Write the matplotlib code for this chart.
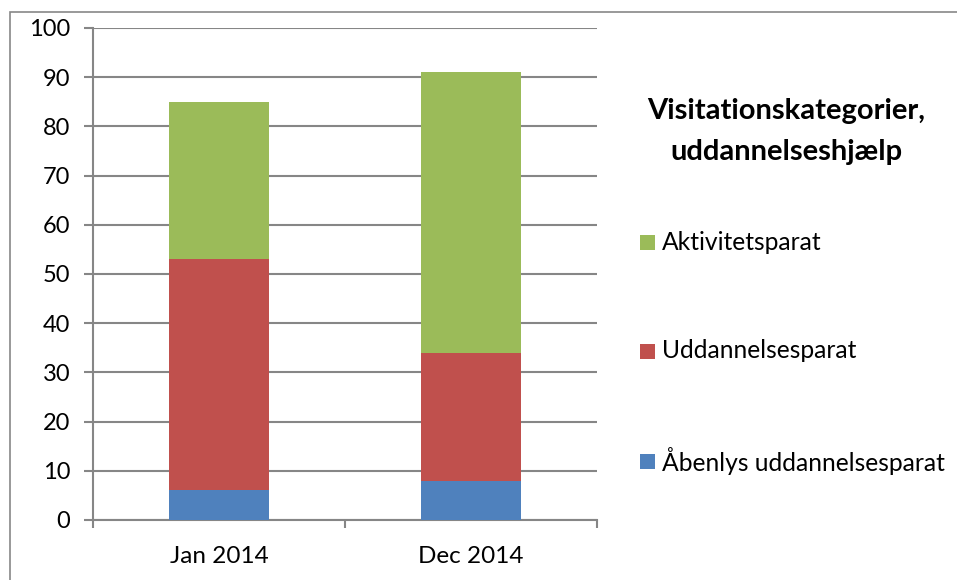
import matplotlib
matplotlib.use("Agg")
import matplotlib.pyplot as plt
from matplotlib.patches import Rectangle
import numpy as np

categories = ["Jan 2014", "Dec 2014"]
series_names = ["Åbenlys uddannelsesparat", "Uddannelsesparat", "Aktivitetsparat"]
aabenlys = [6, 8]
uddannelse = [47, 26]
aktivitet = [32, 57]
colors = ["#4F81BD", "#C0504D", "#9BBB59"]
yticks = [0, 10, 20, 30, 40, 50, 60, 70, 80, 90, 100]

plt.rcParams['font.family'] = ['Lato', 'DejaVu Sans']

W, H = 957, 580
fig = plt.figure(figsize=(W/100, H/100), dpi=100)
fig.patches.append(Rectangle((10/W, -0.05), 1.1 - 10/W, 1.05 - 12/H, transform=fig.transFigure,
                             fill=False, edgecolor="#878787", linewidth=1.2))

ax = fig.add_axes([93/W, 1 - 520/H, (597-93)/W, (520-28)/H])
x = np.arange(len(categories))
grid = "#868686"
bottom = np.zeros(len(categories))
for vals, name, c in zip([aabenlys, uddannelse, aktivitet], series_names, colors):
    ax.bar(x, vals, width=0.4, bottom=bottom, color=c, label=name, zorder=3)
    bottom += np.array(vals)

ax.set_xlim(-0.5, 1.5)
ax.set_ylim(0, 100)
ax.set_yticks(yticks)
ax.set_yticklabels([str(t) for t in yticks], fontsize=17)
ax.yaxis.grid(True, color=grid, linewidth=1.5, zorder=0)
ax.set_axisbelow(True)
ax.set_xticks(x)
ax.set_xticklabels(categories, fontsize=17.5)
ax.tick_params(axis='x', length=0, pad=19)
ax.set_xticks([-0.5, 0.5, 1.5], minor=True)
ax.tick_params(axis='x', which='minor', length=6, width=1.5, color=grid, direction='out')
ax.tick_params(axis='y', length=6.5, width=1.5, color=grid, direction='out', pad=10)
for s in ['top', 'right']:
    ax.spines[s].set_visible(False)
for s in ['left', 'bottom']:
    ax.spines[s].set_color(grid)
    ax.spines[s].set_linewidth(1.5)

fig.text(786/W, 1 - 111/H, "Visitationskategorier,", ha='center', va='center',
         fontsize=21, fontweight='bold')
fig.text(786/W, 1 - 152/H, "uddannelseshjælp", ha='center', va='center',
         fontsize=21, fontweight='bold')

leg_y = {2: 242, 1: 351, 0: 461}
for i, (name, c) in enumerate(zip(series_names, colors)):
    y = leg_y[i]
    fig.patches.append(Rectangle((640/W, 1 - (y + 7.5)/H), 15/W, 15/H, transform=fig.transFigure,
                                 facecolor=c, edgecolor='none'))
    fig.text(662/W, 1 - y/H, name, ha='left', va='center', fontsize=17.7)

fig.savefig("out.png", dpi=100)
